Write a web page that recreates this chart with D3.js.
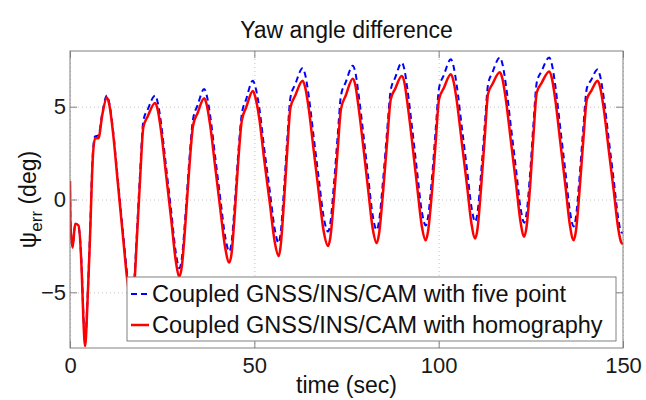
<!DOCTYPE html>
<html>
<head>
<meta charset="utf-8">
<script src="https://d3js.org/d3.v7.min.js"></script>
<style>
  body { margin: 0; background: #fff; }
  svg { font-family: "Liberation Sans", Arial, sans-serif; }
  .axis path { display: none; }
  .axis line { stroke: #808080; }
  .axis text { fill: #1a1a1a; font-size: 22px; }
  .grid line { stroke: #c4c4c4; stroke-dasharray: 1,3; }
  .grid path { display: none; }
</style>
</head>
<body>
<svg width="646" height="400"></svg>
<script>
// time (sec), shared by both series
var time = [0, 0.1, 0.7, 1.4, 2.3, 3.2, 3.6, 4.1, 4.7, 5.4, 6.2, 6.8, 7.7, 8.8, 10.0,
  10.7, 11.6, 13.0, 14.4, 15.7, 16.8, 17.3, 18.1, 19.0, 19.9, 21.1, 23.1,
  23.8, 24.7, 26.1, 27.5, 28.7, 29.7, 30.3, 31.3, 32.3, 33.4, 34.6, 36.4,
  37.1, 38.0, 39.4, 40.8, 42.1, 43.2, 43.8, 44.7, 45.6, 46.6, 47.8, 49.6,
  50.3, 51.3, 52.7, 54.2, 55.5, 56.6, 57.1, 58.0, 58.9, 59.8, 61.1, 63.1,
  63.8, 64.7, 66.1, 67.5, 68.8, 70.0, 70.6, 71.6, 72.6, 73.5, 74.8, 76.7,
  77.4, 78.2, 79.6, 80.9, 82.1, 83.2, 83.8, 84.9, 86.0, 87.0, 88.2, 90.0,
  90.7, 91.5, 92.9, 94.2, 95.4, 96.5, 97.1, 98.2, 99.2, 100.1, 101.4, 103.3,
  104.0, 104.9, 106.3, 107.7, 108.9, 109.9, 110.5, 111.5, 112.5, 113.4, 114.6, 116.6,
  117.3, 118.2, 119.6, 121.0, 122.2, 123.2, 123.8, 124.8, 125.7, 126.6, 127.9, 130.0,
  130.7, 131.6, 133.0, 134.4, 135.6, 136.6, 137.2, 138.2, 139.2, 140.2, 141.4, 143.1,
  143.8, 144.7, 146.1, 147.5, 148.7, 149.5, 150.0];

// Coupled GNSS/INS/CAM with five point (deg)
var fivePoint = [1.0, -1.2, -2.5, -1.4, -1.5, -3.8, -6.0, -7.7, -5.6, -2.0, 2.5, 3.4, 3.45, 4.7, 5.6,
  5.16, 3.86, 1.02, -1.81, -4.32, -5.3, -4.73, -1.96, 1.39, 4.25, 4.86, 5.6,
  5.23, 4.11, 1.69, -0.72, -2.86, -3.7, -3.22, -0.88, 1.94, 4.35, 5.07, 5.95,
  5.6, 4.55, 2.27, 0.0, -2.01, -2.8, -2.36, -0.21, 2.38, 4.6, 5.41, 6.4,
  6.05, 5.0, 2.72, 0.45, -1.56, -2.35, -1.88, 0.4, 3.15, 5.5, 6.21, 7.07,
  6.72, 5.66, 3.37, 1.09, -0.93, -1.73, -1.29, 0.84, 3.4, 5.6, 6.32, 7.2,
  6.85, 5.78, 3.48, 1.18, -0.85, -1.65, -1.2, 0.99, 3.64, 5.9, 6.56, 7.37,
  7.02, 5.97, 3.69, 1.41, -0.61, -1.4, -0.96, 1.19, 3.78, 6.0, 6.7, 7.55,
  7.2, 6.15, 3.87, 1.6, -0.41, -1.2, -0.76, 1.39, 3.98, 6.2, 6.85, 7.65,
  7.3, 6.23, 3.91, 1.6, -0.45, -1.25, -0.8, 1.39, 4.04, 6.3, 6.91, 7.65,
  7.29, 6.19, 3.83, 1.46, -0.63, -1.45, -1.0, 1.16, 3.77, 6.0, 6.45, 7.0,
  6.65, 5.59, 3.3, 1.02, -1.0, -1.75, -1.8];

// Coupled GNSS/INS/CAM with homography (deg)
var homography = [1.0, -1.2, -2.6, -1.3, -1.4, -4.0, -6.3, -7.9, -5.75, -2.2, 2.3, 3.3, 3.3, 4.6, 5.5,
  5.06, 3.72, 0.84, -2.05, -4.6, -5.6, -5.03, -2.27, 1.05, 3.9, 4.49, 5.2,
  4.83, 3.7, 1.27, -1.16, -3.31, -4.15, -3.66, -1.3, 1.55, 4.0, 4.65, 5.45,
  5.1, 4.03, 1.73, -0.57, -2.6, -3.4, -2.94, -0.72, 1.96, 4.25, 4.97, 5.85,
  5.49, 4.43, 2.11, -0.2, -2.25, -3.05, -2.57, -0.25, 2.55, 4.95, 5.6, 6.4,
  6.04, 4.98, 2.66, 0.35, -1.7, -2.5, -2.06, 0.08, 2.66, 4.87, 5.6, 6.5,
  6.15, 5.08, 2.78, 0.48, -1.55, -2.35, -1.88, 0.36, 3.08, 5.4, 5.96, 6.65,
  6.3, 5.23, 2.93, 0.63, -1.4, -2.2, -1.74, 0.46, 3.12, 5.4, 6.01, 6.75,
  6.4, 5.33, 3.03, 0.73, -1.3, -2.1, -1.63, 0.63, 3.36, 5.7, 6.22, 6.85,
  6.5, 5.43, 3.13, 0.83, -1.2, -2.0, -1.53, 0.71, 3.43, 5.75, 6.27, 6.9,
  6.54, 5.44, 3.08, 0.71, -1.38, -2.2, -1.74, 0.46, 3.12, 5.4, 5.85, 6.4,
  6.05, 5.0, 2.72, 0.45, -1.56, -2.3, -2.4];

var xTicks = [0, 50, 100, 150];
var yTicks = [-5, 0, 5];
var seriesNames = ["Coupled GNSS/INS/CAM with five point", "Coupled GNSS/INS/CAM with homography"];

var svg = d3.select("svg"),
margin = {top: 51, right: 23, bottom: 52, left: 70},
width = +svg.attr("width") - margin.left - margin.right,
height = +svg.attr("height") - margin.top - margin.bottom,
g = svg.append("g").attr("transform", "translate(" + margin.left + "," + margin.top + ")");

var x = d3.scaleLinear().domain([0, 150]).range([0, width]);
var y = d3.scaleLinear().domain([-8, 8]).range([height, 0]);

// dotted grid
g.append("g")
.attr("class", "grid")
.attr("transform", "translate(0," + height + ")")
.call(d3.axisBottom(x).tickValues(xTicks).tickSize(-height).tickFormat(""));

g.append("g")
.attr("class", "grid")
.call(d3.axisLeft(y).tickValues(yTicks).tickSize(-width).tickFormat(""));

// lines
svg.append("clipPath").attr("id", "clip")
.append("rect").attr("width", width).attr("height", height);

var line = function(vals) {
  return d3.line()
  .x(function(d, i) { return x(time[i]); })
  .y(function(d) { return y(d); })
  .curve(d3.curveMonotoneX)(vals);
};

var lines = g.append("g").attr("clip-path", "url(#clip)");

lines.append("path")
.attr("d", line(fivePoint))
.attr("fill", "none")
.attr("stroke", "#0000ff")
.attr("stroke-width", 2)
.attr("stroke-dasharray", "6,4");

lines.append("path")
.attr("d", line(homography))
.attr("fill", "none")
.attr("stroke", "#ff0000")
.attr("stroke-width", 2.5);

// axes, ticks pointing inwards
g.append("g")
.attr("class", "axis")
.attr("transform", "translate(0," + height + ")")
.call(d3.axisBottom(x).tickValues(xTicks).tickSizeInner(-7).tickSizeOuter(0).tickPadding(9));

g.append("g")
.attr("class", "axis")
.call(d3.axisTop(x).tickValues(xTicks).tickSizeInner(-7).tickSizeOuter(0).tickFormat(""));

g.append("g")
.attr("class", "axis")
.call(d3.axisLeft(y).tickValues(yTicks).tickSizeInner(-7).tickSizeOuter(0).tickPadding(4));

g.append("g")
.attr("class", "axis")
.attr("transform", "translate(" + width + ",0)")
.call(d3.axisRight(y).tickValues(yTicks).tickSizeInner(-7).tickSizeOuter(0).tickFormat(""));

// box
g.append("rect")
.attr("width", width)
.attr("height", height)
.attr("fill", "none")
.attr("stroke", "#808080")
.attr("stroke-width", 1);

// legend
var legend = g.append("g")
.attr("transform", "translate(" + (127 - margin.left) + "," + (277 - margin.top) + ")");

legend.append("rect")
.attr("width", 489)
.attr("height", 64)
.attr("fill", "#fff")
.attr("stroke", "#808080");

var items = legend.selectAll(".item")
.data(seriesNames)
.enter().append("g")
.attr("class", "item")
.attr("transform", function(d, i) { return "translate(0," + (17 + i * 31) + ")"; });

items.append("line")
.attr("x1", 4).attr("x2", 22)
.attr("stroke", function(d, i) { return i ? "#ff0000" : "#0000ff"; })
.attr("stroke-width", function(d, i) { return i ? 2.5 : 2; })
.attr("stroke-dasharray", function(d, i) { return i ? null : "6,4"; });

items.append("text")
.attr("x", 25)
.attr("y", 8)
.attr("font-size", 23.5)
.attr("fill", "#111")
.text(function(d) { return d; });

// title
svg.append("text")
.attr("x", margin.left + width / 2)
.attr("y", 38)
.attr("text-anchor", "middle")
.attr("font-size", 23)
.attr("fill", "#111")
.text("Yaw angle difference");

// x-axis label
svg.append("text")
.attr("x", margin.left + width / 2)
.attr("y", 393)
.attr("text-anchor", "middle")
.attr("font-size", 23)
.attr("fill", "#111")
.text("time (sec)");

// y-axis label
var ylab = svg.append("text")
.attr("transform", "translate(36," + (margin.top + height / 2) + ") rotate(-90)")
.attr("text-anchor", "middle")
.attr("font-size", 23)
.attr("fill", "#111");
ylab.append("tspan").text("\u03c8");
ylab.append("tspan").attr("dy", 6).attr("font-size", 17).text("err");
ylab.append("tspan").attr("dy", -6).text(" (deg)");
</script>
</body>
</html>
